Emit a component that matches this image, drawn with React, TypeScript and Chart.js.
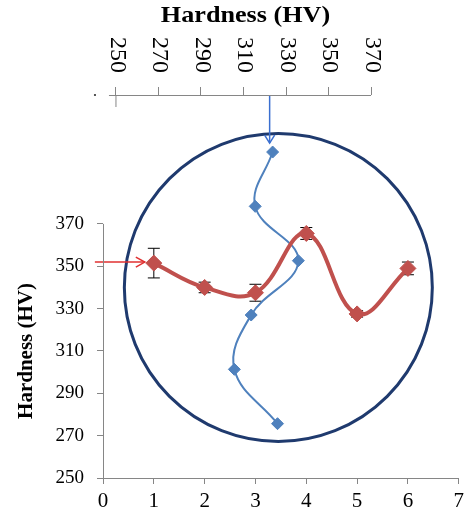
import React, { useEffect, useRef } from 'react';
import { Chart, registerables } from 'chart.js';

Chart.register(...registerables);

// ---- data ----
const redPositions = [1, 2, 3, 4, 5, 6];
const redHardness = [351.5, 340, 337.5, 365.5, 327.5, 349];
const redError = [7, 2.5, 4, 2.8, 1.5, 3];

const bluePositions = [6, 5, 4, 3, 2, 1];
const blueHardness = [323.7, 315.5, 335.8, 313.6, 305.7, 326];

const bottomTicks = [0, 1, 2, 3, 4, 5, 6, 7];
const leftTicks = [250, 270, 290, 310, 330, 350, 370];
const topTicks = [250, 270, 290, 310, 330, 350, 370];
const axisTitle = 'Hardness (HV)';

// circle annotation (data units: bottom x, left y; radius in bottom-x units)
const circleCenter = [3.45, 340];
const circleRadius = 3.03;

const RED = '#C0504D';
const BLUE = '#4F81BD';
const NAVY = '#1F3A6E';
const AXIS = '#868686';
const FONT = "'Liberation Serif', 'Times New Roman', serif";

function arrow(ctx: CanvasRenderingContext2D, x1: number, y1: number, x2: number, y2: number, color: string, width: number, head: number, half: number) {
  const ang = Math.atan2(y2 - y1, x2 - x1);
  ctx.save();
  ctx.strokeStyle = color;
  ctx.lineWidth = width;
  ctx.beginPath();
  ctx.moveTo(x1, y1);
  ctx.lineTo(x2, y2);
  ctx.stroke();
  const bx = x2 - Math.cos(ang) * head;
  const by = y2 - Math.sin(ang) * head;
  const nx = -Math.sin(ang) * half;
  const ny = Math.cos(ang) * half;
  ctx.beginPath();
  ctx.moveTo(bx + nx, by + ny);
  ctx.lineTo(x2, y2);
  ctx.lineTo(bx - nx, by - ny);
  ctx.stroke();
  ctx.restore();
}

const decorPlugin = {
  id: 'decor',
  beforeDatasetsDraw(chart: any) {
    const { ctx } = chart;
    const { x, y } = chart.scales;
    // circle
    const cx = x.getPixelForValue(circleCenter[0]);
    const cy = y.getPixelForValue(circleCenter[1]);
    const r = x.getPixelForValue(circleCenter[0] + circleRadius) - cx;
    ctx.save();
    ctx.strokeStyle = NAVY;
    ctx.lineWidth = 3;
    ctx.beginPath();
    ctx.arc(cx, cy, r, 0, Math.PI * 2);
    ctx.stroke();
    ctx.restore();
    // error bars
    ctx.save();
    ctx.strokeStyle = '#000';
    ctx.lineWidth = 1;
    redPositions.forEach((p, i) => {
      const px = x.getPixelForValue(p);
      const top = y.getPixelForValue(redHardness[i] + redError[i]);
      const bot = y.getPixelForValue(redHardness[i] - redError[i]);
      ctx.beginPath();
      ctx.moveTo(px, top);
      ctx.lineTo(px, bot);
      ctx.moveTo(px - 6, top);
      ctx.lineTo(px + 6, top);
      ctx.moveTo(px - 6, bot);
      ctx.lineTo(px + 6, bot);
      ctx.stroke();
    });
    ctx.restore();
  },
  afterDatasetsDraw(chart: any) {
    const { ctx, chartArea } = chart;
    const { x, y, x2, y2 } = chart.scales;
    // red arrow pointing at first red point
    const ry = y.getPixelForValue(redHardness[0]);
    arrow(ctx, x.getPixelForValue(-0.16), ry - 1, x.getPixelForValue(redPositions[0]) - 9, ry - 1, '#E03030', 1.5, 9, 5);
    // blue arrow pointing at first blue point
    const bx = x2.getPixelForValue(blueHardness[0]) - 3;
    arrow(ctx, bx, chartArea.top, bx, y2.getPixelForValue(bluePositions[0]) - 9, '#3A6FD0', 1.5, 8, 5);
  },
  afterDraw(chart: any) {
    const { ctx, chartArea } = chart;
    const { y, x2 } = chart.scales;
    ctx.save();
    ctx.strokeStyle = AXIS;
    ctx.lineWidth = 1;
    // left axis line
    ctx.beginPath();
    ctx.moveTo(chartArea.left + 0.5, y.getPixelForValue(leftTicks[0]));
    ctx.lineTo(chartArea.left + 0.5, y.getPixelForValue(leftTicks[leftTicks.length - 1]));
    ctx.stroke();
    // top axis line
    const t0 = x2.getPixelForValue(topTicks[0]);
    ctx.beginPath();
    ctx.moveTo(t0 - 7, chartArea.top + 0.5);
    ctx.lineTo(x2.getPixelForValue(topTicks[topTicks.length - 1]), chartArea.top + 0.5);
    ctx.stroke();
    ctx.beginPath();
    ctx.moveTo(t0, chartArea.top);
    ctx.lineTo(t0, chartArea.top + 12);
    ctx.stroke();
    ctx.fillStyle = '#555';
    ctx.fillRect(t0 - 22, chartArea.top - 1, 2, 2);
    ctx.restore();

    // top tick labels (rotated clockwise)
    ctx.save();
    ctx.fillStyle = '#000';
    ctx.font = `24px ${FONT}`;
    ctx.textAlign = 'left';
    ctx.textBaseline = 'middle';
    topTicks.forEach((v) => {
      const px = x2.getPixelForValue(v);
      ctx.save();
      ctx.translate(px + 1, 37);
      ctx.rotate(Math.PI / 2);
      ctx.fillText(String(v), 0, 0);
      ctx.restore();
    });
    ctx.restore();

    // titles
    ctx.save();
    ctx.fillStyle = '#000';
    ctx.font = `bold 24px ${FONT}`;
    ctx.textAlign = 'center';
    ctx.textBaseline = 'alphabetic';
    ctx.save();
    ctx.translate(x2.getPixelForValue(310) + 2, 22);
    ctx.scale(1.09, 1);
    ctx.fillText(axisTitle, 0, 0);
    ctx.restore();
    ctx.font = `bold 21px ${FONT}`;
    ctx.translate(32, (y.getPixelForValue(leftTicks[0]) + y.getPixelForValue(leftTicks[leftTicks.length - 1])) / 2);
    ctx.rotate(-Math.PI / 2);
    ctx.textBaseline = 'alphabetic';
    ctx.fillText(axisTitle, 0, 0);
    ctx.restore();
  },
};

export default function App() {
  const ref = useRef<HTMLCanvasElement | null>(null);

  useEffect(() => {
    if (!ref.current) return;
    Chart.defaults.font.family = FONT;
    Chart.defaults.color = '#000';
    const chart = new Chart(ref.current, {
      type: 'line',
      data: {
        datasets: [
          {
            label: 'red',
            data: redPositions.map((p, i) => ({ x: p, y: redHardness[i] })),
            xAxisID: 'x',
            yAxisID: 'y',
            borderColor: RED,
            backgroundColor: RED,
            borderWidth: 4,
            tension: 0.4,
            pointStyle: 'rectRot',
            pointRadius: 8,
            pointBorderWidth: 1,
            pointBackgroundColor: RED,
            pointBorderColor: RED,
            fill: false,
          },
          {
            label: 'blue',
            data: bluePositions.map((p, i) => ({ x: blueHardness[i], y: p })),
            xAxisID: 'x2',
            yAxisID: 'y2',
            borderColor: BLUE,
            backgroundColor: BLUE,
            borderWidth: 2,
            tension: 0.4,
            pointStyle: 'rectRot',
            pointRadius: 6,
            pointBorderWidth: 1,
            pointBackgroundColor: BLUE,
            pointBorderColor: BLUE,
            fill: false,
          },
        ],
      },
      options: {
        animation: false,
        responsive: false,
        devicePixelRatio: 1,
        layout: { padding: { left: 0, right: 5, top: 0, bottom: 0 } },
        plugins: { legend: { display: false }, tooltip: { enabled: false } },
        events: [],
        scales: {
          x: {
            type: 'linear',
            position: 'bottom',
            min: 0,
            max: 7,
            afterBuildTicks: (s: any) => { s.ticks = bottomTicks.map((v) => ({ value: v })); },
            afterFit: (s: any) => { s.height = 34; },
            ticks: { font: { size: 21 }, color: '#000', padding: 5, maxRotation: 0 },
            grid: { drawOnChartArea: false, tickLength: 6, color: AXIS },
            border: { display: true, color: AXIS, width: 1 },
          },
          y: {
            type: 'linear',
            position: 'left',
            min: 250,
            max: 430.9,
            afterBuildTicks: (s: any) => { s.ticks = leftTicks.map((v) => ({ value: v })); },
            afterFit: (s: any) => { s.width = 103; },
            ticks: { font: { size: 19 }, color: '#000', padding: 13 },
            grid: { drawOnChartArea: false, tickLength: 6, color: AXIS },
            border: { display: false },
          },
          x2: {
            type: 'linear',
            position: 'top',
            min: 243.9,
            max: 411.25,
            afterBuildTicks: (s: any) => { s.ticks = topTicks.map((v) => ({ value: v })); },
            afterFit: (s: any) => { s.height = 95; },
            ticks: { display: false },
            grid: { drawOnChartArea: false, tickLength: 8, color: AXIS },
            border: { display: false },
          },
          y2: {
            type: 'linear',
            position: 'right',
            display: false,
            min: 0,
            max: 7.05,
          },
        },
      },
      plugins: [decorPlugin],
    } as any);
    return () => chart.destroy();
  }, []);

  return (
    <div style={{ position: 'absolute', left: 0, top: 0, width: 469, height: 512, background: '#fff' }}>
      <canvas ref={ref} width={469} height={512} style={{ display: 'block' }} />
    </div>
  );
}
